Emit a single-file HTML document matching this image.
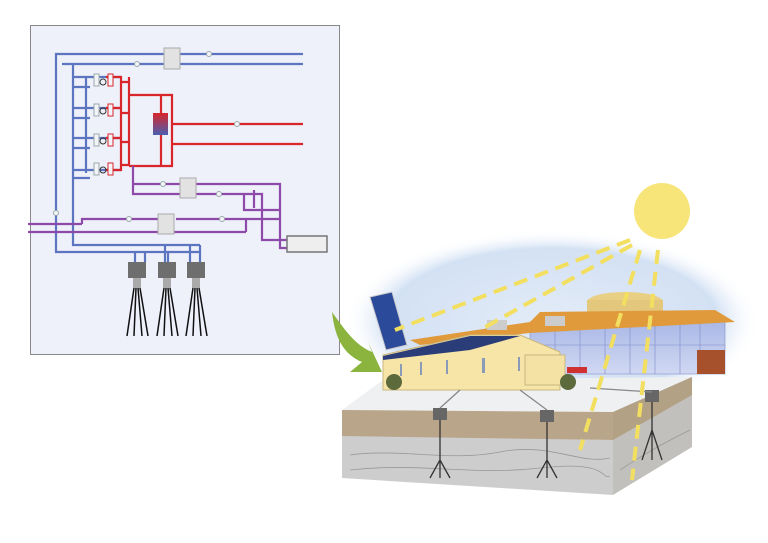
<!DOCTYPE html>
<html><head><meta charset="utf-8"><style>html,body{margin:0;padding:0;background:#fff;width:768px;height:543px;overflow:hidden}</style></head>
<body>
<svg width="768" height="543" viewBox="0 0 768 543" xmlns="http://www.w3.org/2000/svg">
<defs>
<radialGradient id="sky" cx="0.5" cy="0.5" r="0.5"><stop offset="0" stop-color="#e3ecf8"/><stop offset="0.8" stop-color="#d3e1f4"/><stop offset="1" stop-color="#ffffff" stop-opacity="0"/></radialGradient>
<linearGradient id="tank" x1="0" y1="0" x2="0" y2="1"><stop offset="0" stop-color="#d8262b"/><stop offset="1" stop-color="#4a5fb0"/></linearGradient>
<linearGradient id="glass" x1="0" y1="0" x2="0" y2="1"><stop offset="0" stop-color="#aab8e6"/><stop offset="1" stop-color="#d0d8f2"/></linearGradient>
</defs>
<rect x="30.5" y="25.5" width="309" height="329" fill="#eef0fa" stroke="#888" stroke-width="1"/>
<g fill="none" stroke-width="2.2">
<g stroke="#5b75c0">
<path d="M303 54H56V252H200M303 64H62M73 64V245H200M73 77H121M73 87H90M73 108H121M73 118H90M73 138H121M73 148H90M73 170H121M73 178H90M86 77V173"/>
<path d="M135 252V262M145 252V262M165 245V262M168 252V262M190 245V262M200 245V262"/>
</g>
<g stroke="#d8262b">
<path d="M106 77H121V170H106M106 108H121M106 138H121M121 82H129M121 113H129M121 142H129M121 165H129M129 77V166M129 95H172V166H129M172 124H303M172 144H303M172 95V115M172 135V144M161 95V113M161 135V166"/>
</g>
<g stroke="#8d4aa8">
<path d="M133 166V184H180M196 184H280V248H287M133 166V194H180M196 194H262V240H287M254 190V208M244 194V210H280M28 224H82M82 224V219H160M176 219H280M246 218V232M28 232H246M262 240H287"/>
</g>
</g>
<g fill="#e2e2e2" stroke="#aaa"><rect x="164" y="48" width="16" height="21"/><rect x="180" y="178" width="16" height="20"/><rect x="158" y="214" width="16" height="20"/></g>
<rect x="287" y="236" width="40" height="16" fill="#eee" stroke="#777" stroke-width="1.5"/>
<rect x="153" y="113" width="15" height="22" fill="url(#tank)"/>
<g fill="#f4f4f8" stroke="#9aa"><circle cx="209" cy="54" r="2.5"/><circle cx="137" cy="64" r="2.5"/><circle cx="237" cy="124" r="2.5"/><circle cx="163" cy="184" r="2.5"/><circle cx="219" cy="194" r="2.5"/><circle cx="129" cy="219" r="2.5"/><circle cx="222" cy="219" r="2.5"/><circle cx="56" cy="213" r="2.5"/>
<rect x="94" y="74" width="5" height="12"/><rect x="94" y="104" width="5" height="12"/><rect x="94" y="134" width="5" height="12"/><rect x="94" y="163" width="5" height="12"/>
<rect x="108" y="74" width="5" height="12" stroke="#d8262b"/><rect x="108" y="104" width="5" height="12" stroke="#d8262b"/><rect x="108" y="134" width="5" height="12" stroke="#d8262b"/><rect x="108" y="163" width="5" height="12" stroke="#d8262b"/></g>
<g fill="none" stroke="#333"><circle cx="103" cy="82" r="3"/><circle cx="103" cy="111" r="3"/><circle cx="103" cy="141" r="3"/><circle cx="103" cy="170" r="3"/></g>
<g fill="#6e6e6e"><rect x="128" y="262" width="18" height="16"/><rect x="158" y="262" width="18" height="16"/><rect x="187" y="262" width="18" height="16"/></g>
<g fill="#aaa"><rect x="133" y="278" width="8" height="10"/><rect x="163" y="278" width="8" height="10"/><rect x="192" y="278" width="8" height="10"/></g>
<g stroke="#111" stroke-width="1.5" fill="none">
<path d="M134 288L127 336M136 288L134 336M138 288L142 336M140 288L148 336M164 288L157 336M166 288L164 336M168 288L172 336M170 288L178 336M193 288L186 336M195 288L193 336M197 288L201 336M199 288L207 336"/></g>
<ellipse cx="552" cy="322" rx="208" ry="92" fill="url(#sky)"/>
<path d="M332 312C345 330 355 345 372 352L368 342L382 372L350 372L362 362C345 355 335 340 332 312Z" fill="#8ab43d"/>
<polygon points="342,410 383,380 692,377 613,412" fill="#eef0f2"/>
<polygon points="342,410 613,412 613,440 342,438" fill="#b9a58a"/>
<polygon points="342,436 613,440 613,495 342,478" fill="#cdcdcd"/>
<polygon points="613,412 692,377 692,447 613,495" fill="#c2c0bc"/>
<polygon points="613,412 692,377 692,395 613,440" fill="#b3a185"/>
<g stroke="#999" fill="none" stroke-width="0.8"><path d="M350 455C400 448 450 462 500 452S580 465 610 458M350 470C420 462 470 476 540 468S600 480 610 476M620 470C650 450 670 440 690 430"/></g>
<ellipse cx="625" cy="302" rx="38" ry="10" fill="#e8cf84"/>
<rect x="587" y="300" width="76" height="18" fill="#e3c77c"/>
<rect x="530" y="322" width="195" height="52" fill="url(#glass)" stroke="#8090c8" stroke-width="0.6"/>
<g stroke="#7d8cc8" stroke-width="0.6"><path d="M555 322V374M580 322V374M605 322V374M630 322V374M655 322V374M680 322V374M700 322V374M530 345H725"/></g>
<rect x="697" y="350" width="28" height="24" fill="#a6502c"/>
<polygon points="410,340 530,322 540,312 715,310 735,322 530,333 420,345" fill="#e09a3c"/>
<rect x="487" y="320" width="20" height="10" fill="#ccc"/><rect x="545" y="316" width="20" height="10" fill="#ccc"/>
<polygon points="383,355 470,335 520,335 560,352 560,390 383,390" fill="#f6e5a6" stroke="#c8b880"/>
<polygon points="383,356 470,336 520,336 470,350 383,360" fill="#2b3d78"/>
<g fill="#8a9bb8"><rect x="400" y="364" width="2" height="12"/><rect x="420" y="362" width="2" height="13"/><rect x="446" y="360" width="2" height="14"/><rect x="482" y="358" width="3" height="15"/><rect x="518" y="357" width="2" height="14"/></g>
<rect x="525" y="355" width="40" height="30" fill="#f3e2a4" stroke="#c8b880"/>
<rect x="567" y="367" width="20" height="6" fill="#d03030"/>
<polygon points="370,297 392,292 407,345 386,350" fill="#2c4a9a" stroke="#ccc"/>
<circle cx="394" cy="382" r="8" fill="#5c6a3c"/><circle cx="568" cy="382" r="8" fill="#5c6a3c"/>
<g fill="#666"><rect x="433" y="408" width="14" height="12"/><rect x="540" y="410" width="14" height="12"/><rect x="645" y="390" width="14" height="12"/></g>
<g stroke="#333" stroke-width="1.3" fill="none"><path d="M440 420V460L430 478M440 460L450 478M440 460V478M547 422V460L537 478M547 460L557 478M547 460V478M652 402V430L642 460M652 430L662 460M652 430V460"/>
<path d="M440 408L460 390M547 410L520 390M652 392L590 388" stroke="#888"/></g>
<circle cx="662" cy="211" r="28" fill="#f7e57a"/>
<g stroke="#f3df5f" stroke-width="4" stroke-dasharray="14 8" fill="none">
<path d="M630 240L395 330M632 245L480 330M640 250L580 450M658 250L632 480"/></g>
</svg>
</body></html>
